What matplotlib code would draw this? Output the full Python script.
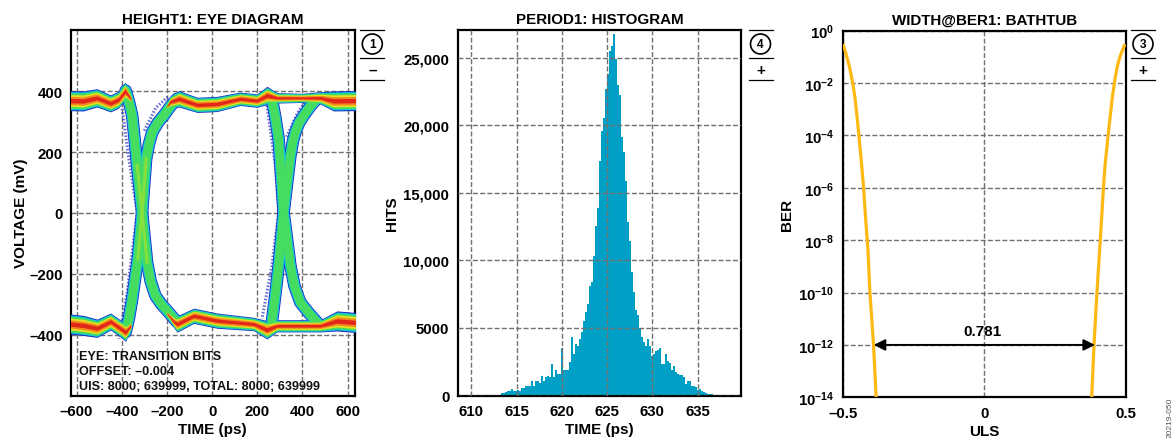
import matplotlib
matplotlib.use('Agg')
import matplotlib.pyplot as plt
from matplotlib.patches import Circle
import numpy as np

plt.rcParams['font.family'] = ['Liberation Sans', 'DejaVu Sans']
plt.rcParams['font.weight'] = 'bold'
plt.rcParams['mathtext.fontset'] = 'custom'
plt.rcParams['mathtext.bf'] = 'Liberation Sans:bold'
plt.rcParams['mathtext.rm'] = 'Liberation Sans:bold'

W, H = 1175, 439

# ---- eye diagram rails: centre and half width (ps, mV) ----
top_left_t = [-630, -570, -510, -450, -415, -385, -360]
top_left_v = [369, 368, 378, 360, 372, 400, 375]
top_left_hw = [33, 33, 30, 28, 28, 30, 14]
top_rail_t = [-200, -185, -147, -66, 22, 125, 199, 243, 288, 400, 479, 538, 635]
top_rail_v = [350, 365, 375, 355, 358, 375, 369, 386, 378, 378, 378, 368, 369]
top_rail_hw = [8, 20, 27, 25, 25, 22, 22, 30, 17, 15, 20, 33, 33]

bot_left_t = [-630, -568, -509, -450, -413, -383, -360]
bot_left_v = [-365, -370, -379, -357, -376, -392, -370]
bot_left_hw = [33, 33, 30, 28, 28, 30, 14]
bot_rail_t = [-200, -170, -155, -81, 22, 184, 243, 288, 400, 479, 553, 635]
bot_rail_v = [-330, -357, -365, -338, -354, -365, -384, -371, -371, -371, -355, -360]
bot_rail_hw = [8, 20, 27, 25, 25, 22, 30, 20, 20, 20, 33, 33]

# transitions
fall1_t = [-383, -368, -354, -343, -332, -310, -288, -272, -251, -225, -199, -175, -155]
fall1_v = [402, 365, 320, 240, 156, 2, -162, -225, -272, -300, -321, -342, -359]
rise1_t = [-383, -368, -354, -342, -329, -310, -292, -280, -265, -240, -214, -185, -155]
rise1_v = [-392, -345, -283, -220, -151, 2, 178, 225, 265, 297, 320, 350, 375]
fall2_t = [265, 280, 295, 317, 347, 365, 391, 430, 472]
fall2_v = [375, 315, 243, 2, -173, -240, -294, -330, -365]
rise2_t = [265, 280, 295, 317, 347, 358, 369, 385, 406, 435, 465]
rise2_v = [-359, -270, -173, 2, 188, 235, 265, 295, 320, 350, 375]

stray1_t = [-398, -369, -332, -376, -413]
stray1_v = [342, 178, 2, -261, -414]
stray2_t = [243, 280, 295, 265, 221]
stray2_v = [353, 156, 2, -173, -348]
stray3_t = [-300, -250, -190]
stray3_v = [270, 345, 385]
stray4_t = [330, 380, 420]
stray4_v = [250, 330, 372]

eye_xticks = [-600, -400, -200, 0, 200, 400, 600]
eye_xlabels = ['–600', '–400', '–200', '0', '200', '400', '600']
eye_yticks = [-400, -200, 0, 200, 400]
eye_ylabels = ['–400', '–200', '0', '200', '400']

# ---- histogram ----
bin_start = 613.31
bin_width = 0.2205
hist_hits = [150, 170, 250, 320, 370, 470, 320, 370, 420, 300,
             540, 570, 715, 715, 715, 1040, 715, 1040, 1060, 890,
             1480, 1040, 1360, 1430, 1360, 2340, 1360, 1900, 1600, 1600,
             3500, 1900, 1900, 1900, 2470, 4360, 3080, 3820, 3650, 4190,
             4730, 5550, 6160, 6780, 8090, 8380, 10360, 12580, 13860, 17340,
             19600, 20520, 22690, 23800, 25520, 25900, 26760, 24900, 22980, 22240,
             19100, 18050, 15900, 12870, 11470, 9120, 7640, 6360, 5970, 4930,
             4315, 3945, 3650, 4190, 3700, 2960, 3080, 3330, 3400, 3500,
             2340, 2340, 3080, 2590, 2390, 1920, 2170, 1730, 1600, 1530,
             1530, 1360, 860, 1040, 1040, 740, 690, 620, 420, 490,
             300, 250, 170, 120, 120, 80, 60, 40]
hist_xticks = [610, 615, 620, 625, 630, 635]
hist_yticks = [0, 5000, 10000, 15000, 20000, 25000]
hist_ylabels = ['0', '5000', '10,000', '15,000', '20,000', '25,000']

# ---- bathtub ----
ber_left_x = [-0.497, -0.491, -0.485, -0.478, -0.471, -0.463, -0.456, -0.445, -0.435, -0.426, -0.419, -0.411, -0.404, -0.395, -0.391, -0.382]
ber_left_log = [-0.57, -0.78, -1.02, -1.30, -1.65, -2.10, -2.61, -3.75, -4.90, -6.04, -7.19, -8.33, -9.99, -11.39, -12.02, -14.0]
ber_right_x = [0.494, 0.486, 0.478, 0.470, 0.463, 0.457, 0.451, 0.438, 0.426, 0.420, 0.411, 0.402, 0.394, 0.387, 0.379]
ber_right_log = [-0.57, -0.78, -1.02, -1.33, -1.72, -2.15, -2.61, -3.88, -5.15, -6.04, -7.70, -9.22, -10.62, -12.02, -14.0]
ber_yexp = [0, -2, -4, -6, -8, -10, -12, -14]
ber_width = 0.781

band_colors = ['#1a2ac0', '#12c4dc', '#45dc60', '#e4e020', '#f28a1e', '#e2261a']
band_fracs = [1.0, 0.9, 0.78, 0.6, 0.42, 0.22]
edge_widths = [9.0, 7.8, 6.2]
GRID = '#707070'


def make_ax(left, right, top, bottom):
    return fig.add_axes([left / W, 1 - bottom / H, (right - left) / W, (bottom - top) / H])


def style_ax(ax):
    for s in ax.spines.values():
        s.set_linewidth(1.6)
    ax.tick_params(length=0, labelsize=10.8, pad=6)
    ax.grid(True, color=GRID, ls=(0, (3.6, 1.6)), lw=1.0)


fig = plt.figure(figsize=(W / 100, H / 100), dpi=100, facecolor='white')

# LEFT: eye diagram
ax1 = make_ax(71, 354.5, 31, 396.5)
ax1.set_xlim(-625, 631)
ax1.set_ylim(-600, 601)
style_ax(ax1)
ax1.set_axisbelow(True)
ax1.set_xticks(eye_xticks, eye_xlabels)
ax1.set_yticks(eye_yticks, eye_ylabels)
ax1.set_title('HEIGHT1: EYE DIAGRAM', fontsize=10.9, fontweight='bold', pad=5)
ax1.set_xlabel('TIME (ps)', fontsize=11, fontweight='bold', labelpad=3)
ax1.set_ylabel('VOLTAGE (mV)', fontsize=11, fontweight='bold', labelpad=1)

for st, sv in [(stray1_t, stray1_v), (stray2_t, stray2_v), (stray3_t, stray3_v), (stray4_t, stray4_v)]:
    ax1.plot(st, sv, color='#3038c8', lw=2.2, ls=(0, (0.5, 0.6)), alpha=0.75, zorder=3)

edges = [(fall1_t, fall1_v), (rise1_t, rise1_v), (fall2_t, fall2_v), (rise2_t, rise2_v)]
rails = [(top_left_t, top_left_v, top_left_hw), (top_rail_t, top_rail_v, top_rail_hw),
         (bot_left_t, bot_left_v, bot_left_hw), (bot_rail_t, bot_rail_v, bot_rail_hw)]

# one colour at a time over all traces so that the bands merge
for i, (col, frac) in enumerate(zip(band_colors, band_fracs)):
    if i < len(edge_widths):
        for tt, vv in edges:
            ax1.plot(tt, vv, color=col, lw=edge_widths[i], solid_capstyle='round',
                     solid_joinstyle='round', zorder=4 + i * 0.1)
    for rt, rv, rh in rails:
        rt, rv, rh = np.array(rt), np.array(rv), np.array(rh)
        ax1.fill_between(rt, rv - frac * rh, rv + frac * rh, color=col, lw=0, zorder=4 + i * 0.1)

# centre of the crossings
ax1.plot(fall1_t[4:7], fall1_v[4:7], color='#86e040', lw=2.2, zorder=4.25)
ax1.plot(rise1_t[4:7], rise1_v[4:7], color='#86e040', lw=2.2, zorder=4.25)

eye_notes = ['EYE: TRANSITION BITS', 'OFFSET: –0.004', 'UIS: 8000; 639999, TOTAL: 8000; 639999']
for note, ypx in zip(eye_notes, [357, 372, 387]):
    ax1.text((79 - 71) / 283.5, 1 - (ypx - 31) / 365.5, note, transform=ax1.transAxes,
             fontsize=9.1, va='center', ha='left', zorder=6, color='#111111')

# MIDDLE: histogram
ax2 = make_ax(457.7, 741, 31, 396.5)
ax2.set_xlim(608.5, 639.8)
ax2.set_ylim(0, 27050)
style_ax(ax2)
ax2.set_axisbelow(False)
hist_edges = bin_start + bin_width * np.arange(len(hist_hits) + 1)
ax2.stairs(hist_hits, hist_edges, fill=True, color='#00a0c6', zorder=1)
ax2.set_xticks(hist_xticks)
ax2.set_yticks(hist_yticks, hist_ylabels)
ax2.set_title('PERIOD1: HISTOGRAM', fontsize=10.9, fontweight='bold', pad=5)
ax2.set_xlabel('TIME (ps)', fontsize=11, fontweight='bold', labelpad=3)
ax2.set_ylabel('HITS', fontsize=11, fontweight='bold', labelpad=3)

# RIGHT: bathtub
ax3 = make_ax(842.7, 1126, 31.7, 398.3)
ax3.set_yscale('log')
ax3.set_xlim(-0.5, 0.5)
ax3.set_ylim(1e-14, 1e0)
style_ax(ax3)
ax3.set_xticks([-0.5, 0, 0.5], ['–0.5', '0', '0.5'])
ax3.set_yticks([10.0 ** e for e in ber_yexp],
               ['$\\mathbf{10^{%s}}$' % str(e).replace('-', '\u2013') for e in ber_yexp])
ax3.minorticks_off()
ax3.plot(ber_left_x, 10.0 ** np.array(ber_left_log), color='#fdb813', lw=2.3, zorder=3)
ax3.plot(ber_right_x, 10.0 ** np.array(ber_right_log), color='#fdb813', lw=2.3, zorder=3)
ax3.annotate('', xy=(-ber_width / 2, 1e-12), xytext=(ber_width / 2, 1e-12),
             arrowprops=dict(arrowstyle='<|-|>', color='black', lw=1.4, mutation_scale=17,
                             shrinkA=0, shrinkB=0), zorder=4)
ax3.text(-0.005, 10 ** -11.45, '%.3f' % ber_width, ha='center', va='center', fontsize=11, zorder=5)
ax3.set_title('WIDTH@BER1: BATHTUB', fontsize=10.9, fontweight='bold', pad=5)
ax3.set_xlabel('ULS', fontsize=11, fontweight='bold', labelpad=3)
ax3.set_ylabel('BER', fontsize=11, fontweight='bold', labelpad=3)

# side channel tags, drawn in pixel coordinates
over = fig.add_axes([0, 0, 1, 1], facecolor='none')
over.set_xlim(0, W)
over.set_ylim(H, 0)
over.axis('off')
tags = [(372.3, '1', '–'), (760.5, '4', '+'), (1143, '3', '+')]
for cx, num, sign in tags:
    for ypx in [30.5, 59, 81]:
        over.plot([cx - 12, cx + 12], [ypx, ypx], color='black', lw=0.9)
    over.add_patch(Circle((cx, 45), 10, facecolor='white', edgecolor='black', lw=1.2))
    over.text(cx, 45, num, ha='center', va='center', fontsize=8.5)
    over.text(cx, 70.5, sign, ha='center', va='center', fontsize=11)

over.text(1170, 438, '20219-050', rotation=90, ha='center', va='bottom', fontsize=6,
          color='#555555', fontweight='normal')

plt.savefig('out.png', dpi=100, facecolor='white')
plt.close()
